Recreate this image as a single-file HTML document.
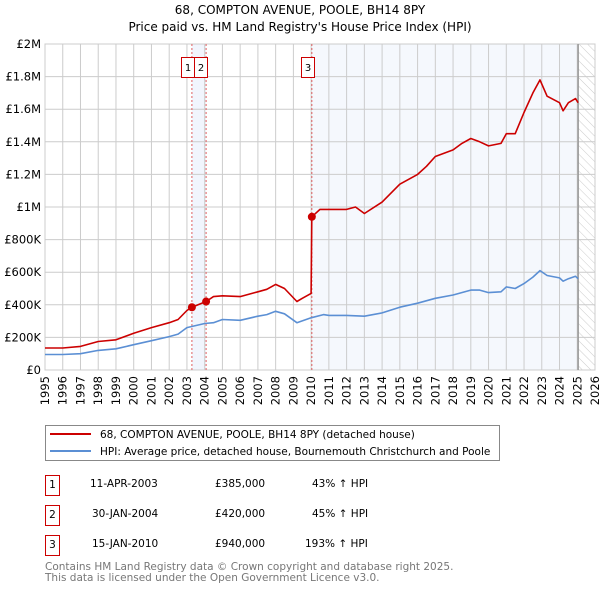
<!DOCTYPE html>
<html><head><meta charset="utf-8"><style>
body{margin:0;background:#fff;font-family:"DejaVu Sans","Liberation Sans",sans-serif;}
svg text{font-family:"DejaVu Sans","Liberation Sans",sans-serif;}
</style></head><body>
<svg id="c" width="600" height="590" xmlns="http://www.w3.org/2000/svg">
<defs><pattern id="hatch" width="6" height="6" patternUnits="userSpaceOnUse" patternTransform="rotate(-45)"><line x1="0" y1="0" x2="0" y2="6" stroke="#ccc" stroke-width="1"/></pattern></defs>
<text x="300" y="14" text-anchor="middle" font-size="12">68, COMPTON AVENUE, POOLE, BH14 8PY</text>
<text x="300" y="31" text-anchor="middle" font-size="12">Price paid vs. HM Land Registry's House Price Index (HPI)</text>
<g id="plot"></g>
<g>
<rect x="45.5" y="425.5" width="454" height="35" fill="#fff" stroke="#888"/>
<line x1="50" y1="434" x2="91" y2="434" stroke="#cc0000" stroke-width="2"/>
<text x="100" y="438" font-size="10.5">68, COMPTON AVENUE, POOLE, BH14 8PY (detached house)</text>
<line x1="50" y1="451" x2="91" y2="451" stroke="#5b8fd4" stroke-width="2"/>
<text x="100" y="455" font-size="10.5">HPI: Average price, detached house, Bournemouth Christchurch and Poole</text>
</g>
<g font-size="10.5">
<g><rect x="45.5" y="475.5" width="14" height="20" fill="none" stroke="#cc0000"/><text x="52.5" y="488" text-anchor="middle">1</text><text x="90" y="487">11-APR-2003</text><text x="215" y="487">£385,000</text><text x="312" y="487">43% ↑ HPI</text></g>
<g><rect x="45.5" y="505.5" width="14" height="20" fill="none" stroke="#cc0000"/><text x="52.5" y="518" text-anchor="middle">2</text><text x="92" y="517">30-JAN-2004</text><text x="215" y="517">£420,000</text><text x="312" y="517">45% ↑ HPI</text></g>
<g><rect x="45.5" y="535.5" width="14" height="20" fill="none" stroke="#cc0000"/><text x="52.5" y="548" text-anchor="middle">3</text><text x="92" y="547">15-JAN-2010</text><text x="215" y="547">£940,000</text><text x="305" y="547">193% ↑ HPI</text></g>
</g>
<text x="45" y="570" font-size="10.5" fill="#777">Contains HM Land Registry data © Crown copyright and database right 2025.</text>
<text x="45" y="581" font-size="10.5" fill="#777">This data is licensed under the Open Government Licence v3.0.</text>
</svg>
<script>
const hpiYears=[1995,1996,1997,1998,1999,2000,2001,2002,2002.5,2003,2004,2004.5,2005,2006,2007,2007.5,2008,2008.5,2009.2,2010,2010.7,2011,2012,2013,2014,2015,2016,2017,2018,2019,2019.5,2020,2020.7,2021,2021.5,2022,2022.5,2022.9,2023.3,2024,2024.2,2024.5,2024.9,2025.05];
const hpiValues=[95,95,100,120,130,155,180,205,220,260,285,290,310,305,330,340,360,345,290,320,340,335,335,330,350,385,410,440,460,490,490,475,480,510,500,530,570,610,580,565,545,560,575,560];
const priceYears=[1995,1996,1997,1998,1999,2000,2001,2002,2002.5,2003,2003.28,2004.08,2004.5,2005,2006,2007,2007.5,2008,2008.5,2009.2,2009.5,2010.0,2010.04,2010.5,2011,2012,2012.5,2013,2014,2015,2016,2016.5,2017,2018,2018.5,2019,2019.5,2020,2020.7,2021,2021.5,2022,2022.5,2022.9,2023.3,2024,2024.2,2024.5,2024.9,2025.05];
const priceValues=[135,135,145,175,185,225,260,290,310,365,385,420,450,455,450,480,495,525,500,420,440,470,940,985,985,985,1000,960,1030,1140,1200,1250,1310,1350,1390,1420,1400,1375,1390,1450,1450,1580,1700,1780,1680,1640,1590,1640,1665,1640];
const saleYears=[2003.28,2004.08,2010.04];
const saleValues=[385,420,940];
const saleLabels=["1","2","3"];
const yTicks=[0,200,400,600,800,1000,1200,1400,1600,1800,2000];
const yTickLabels=["£0","£200K","£400K","£600K","£800K","£1M","£1.2M","£1.4M","£1.6M","£1.8M","£2M"];
const xTicks=[1995,1996,1997,1998,1999,2000,2001,2002,2003,2004,2005,2006,2007,2008,2009,2010,2011,2012,2013,2014,2015,2016,2017,2018,2019,2020,2021,2022,2023,2024,2025,2026];

const L=45,R=595,T=44,B=370,X0=1995,X1=2026,YMAX=2000,DATA_END=2025.05;
const sx=v=>L+(v-X0)/(X1-X0)*(R-L);
const sy=v=>B-v/YMAX*(B-T);
const NS="http://www.w3.org/2000/svg";
const g=document.getElementById('plot');
function mk(tag,attrs,parent){const e=document.createElementNS(NS,tag);for(const k in attrs)e.setAttribute(k,attrs[k]);(parent||g).appendChild(e);return e;}

let r=mk('rect',{x:sx(saleYears[0]),y:T,width:sx(saleYears[1])-sx(saleYears[0]),height:B-T,fill:'#eef3fc',opacity:0.8});


r=mk('rect',{x:sx(saleYears[2]),y:T,width:sx(DATA_END)-sx(saleYears[2]),height:B-T,fill:'#eef3fc',opacity:0.6});


r=mk('rect',{x:sx(DATA_END),y:T,width:R-sx(DATA_END),height:B-T,fill:'url(#hatch)'});



yTicks.forEach((v,i)=>{
  const l=mk('line',{x1:L,x2:R,y1:sy(v),y2:sy(v),stroke:'#ccc','stroke-width':1});
  
  
  const t=mk('text',{x:L-4,y:sy(v)+4,'text-anchor':'end','font-size':'11.5'});
  t.textContent=yTickLabels[i];
  
  
});
xTicks.forEach(v=>{
  const l=mk('line',{x1:sx(v),x2:sx(v),y1:T,y2:B,stroke:'#ccc','stroke-width':1});
  
  
  const t=mk('text',{x:0,y:0,'text-anchor':'end','font-size':'11.5',transform:`translate(${sx(v)+4},${B+6}) rotate(-90)`});
  t.textContent=v;
  
  
});
let b=mk('rect',{x:L,y:T,width:R-L,height:B-T,fill:'none',stroke:'#ccc'});


let dl=mk('line',{x1:sx(DATA_END),x2:sx(DATA_END),y1:T,y2:B,stroke:'#999','stroke-width':1.5});



const boxOffsets=[-10,-10,-10];
saleYears.forEach((yr,i)=>{
  const l=mk('line',{x1:sx(yr),x2:sx(yr),y1:T,y2:B,stroke:'#e06060','stroke-width':1,'stroke-dasharray':'2,2'});
  
  
});
// label boxes (1 and 2 are adjacent to avoid overlap)
const boxX=[181,194,301];
saleYears.forEach((yr,i)=>{
  const bx=boxX[i];
  const rr=mk('rect',{x:bx+0.5,y:57.5,width:13,height:20,fill:'#fff',stroke:'#cc0000'});
  
  
  const t=mk('text',{x:bx+7,y:71,'text-anchor':'middle','font-size':'10'});
  t.textContent=saleLabels[i];
  
  
});

function path(xs,ys,color,name){
  const d=xs.map((x,i)=>(i?'L':'M')+sx(x).toFixed(1)+','+sy(ys[i]).toFixed(1)).join('');
  const p=mk('path',{d:d,fill:'none',stroke:color,'stroke-width':1.6,'stroke-linejoin':'round'});
  
  
}
path(hpiYears,hpiValues,'#5b8fd4','hpi-line');
path(priceYears,priceValues,'#cc0000','price-paid-line');
saleYears.forEach((yr,i)=>{
  const c=mk('circle',{cx:sx(yr),cy:sy(saleValues[i]),r:4,fill:'#cc0000'});
  
  
});
</script>
</body></html>
